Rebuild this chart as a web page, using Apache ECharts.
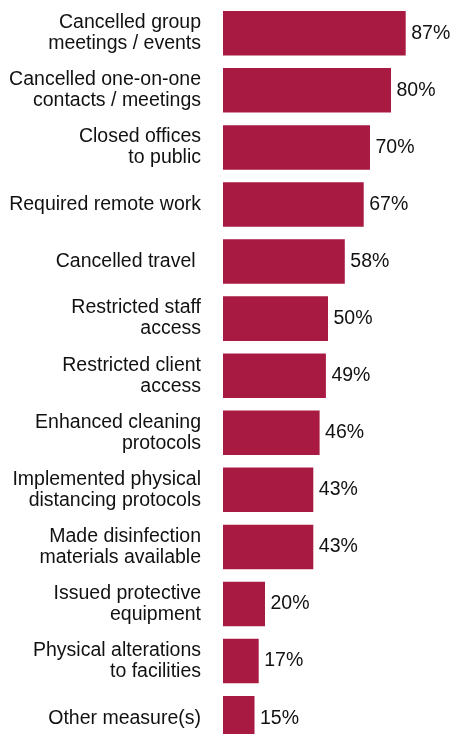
<!DOCTYPE html>
<html>
<head>
<meta charset="utf-8">
<script src="https://cdn.jsdelivr.net/npm/echarts@6/dist/echarts.min.js"></script>
<style>
  html, body { margin: 0; padding: 0; background: #ffffff; overflow: hidden; }
  /* canvas runs a little past the bottom edge so the last bar is cut off */
  #chart { width: 453px; height: 760px; }
</style>
</head>
<body>
<div id="chart"></div>
<script>
// Measures taken, one entry per bar (top to bottom)
const categories = [
  'Cancelled group\nmeetings / events',
  'Cancelled one-on-one\ncontacts / meetings',
  'Closed offices\nto public',
  'Required remote work',
  'Cancelled travel ',
  'Restricted staff\naccess',
  'Restricted client\naccess',
  'Enhanced cleaning\nprotocols',
  'Implemented physical\ndistancing protocols',
  'Made disinfection\nmaterials available',
  'Issued protective\nequipment',
  'Physical alterations\nto facilities',
  'Other measure(s)'
];
// Share of respondents, percent
const values = [87, 80, 70, 67, 58, 50, 49, 46, 43, 43, 20, 17, 15];

const FONT = '"Liberation Sans", Arial, Helvetica, sans-serif';
const BAR_COLOR = '#A91A42';
const TEXT_COLOR = '#111111';

const chart = echarts.init(document.getElementById('chart'), null, { renderer: 'canvas' });

chart.setOption({
  animation: false,
  backgroundColor: '#ffffff',
  grid: { left: 223, right: 20, top: 4.7, height: 742, containLabel: false },
  xAxis: {
    type: 'value',
    min: 0,
    max: 100,
    show: false
  },
  yAxis: {
    type: 'category',
    inverse: true,
    data: categories,
    axisLine: { show: false },
    axisTick: { show: false },
    splitLine: { show: false },
    axisLabel: {
      margin: 22,
      align: 'right',
      color: TEXT_COLOR,
      fontFamily: FONT,
      fontSize: 19.5,
      lineHeight: 21
    }
  },
  series: [{
    type: 'bar',
    data: values,
    barCategoryGap: '22%',
    itemStyle: { color: BAR_COLOR },
    label: {
      show: true,
      position: 'right',
      distance: 5.5,
      color: TEXT_COLOR,
      fontFamily: FONT,
      fontSize: 19.5,
      formatter: '{c}%'
    }
  }]
});
</script>
</body>
</html>
